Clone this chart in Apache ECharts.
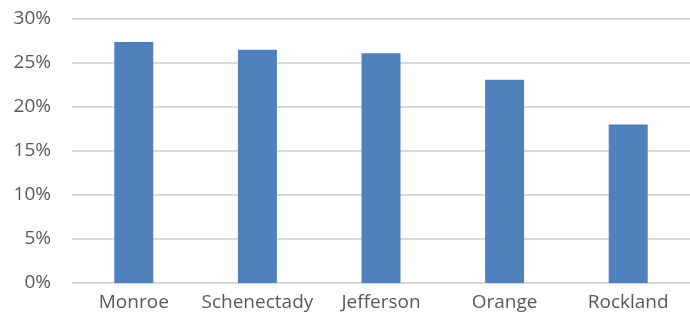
<!DOCTYPE html>
<html>
<head>
<meta charset="utf-8">
<script src="https://cdn.jsdelivr.net/npm/echarts@6/dist/echarts.min.js"></script>
<style>
  html, body { margin: 0; padding: 0; background: #fff; }
  #chart { width: 690px; height: 322px; }
</style>
</head>
<body>
<div id="chart"></div>
<script>
// County shares, in percent
const counties = ['Monroe', 'Schenectady', 'Jefferson', 'Orange', 'Rockland'];
const shares = [27.4, 26.5, 26.1, 23.1, 18.0];
const yTicks = { min: 0, max: 30, step: 5 };

const textColor = '#595959';
const gridColor = '#d9d9d9';
const fontFamily = '"Open Sans", sans-serif';

const chart = echarts.init(document.getElementById('chart'), null, { renderer: 'canvas' });
chart.setOption({
  animation: false,
  grid: { left: 72, right: 0, top: 19, bottom: 39, containLabel: false },
  xAxis: {
    type: 'category',
    data: counties,
    axisLine: { show: false },
    axisTick: { show: false },
    axisLabel: {
      interval: 0, hideOverlap: false,
      color: textColor, fontSize: 19, fontFamily: fontFamily, margin: 10
    }
  },
  yAxis: {
    type: 'value',
    min: yTicks.min,
    max: yTicks.max,
    interval: yTicks.step,
    axisLine: { show: false },
    axisTick: { show: false },
    splitLine: { lineStyle: { color: gridColor, width: 2 } },
    axisLabel: {
      color: textColor, fontSize: 19, fontFamily: fontFamily, margin: 21,
      formatter: v => v + '%'
    }
  },
  series: [{
    type: 'bar',
    data: shares,
    barWidth: 39,
    itemStyle: { color: '#4F81BD' }
  }]
});
</script>
</body>
</html>
